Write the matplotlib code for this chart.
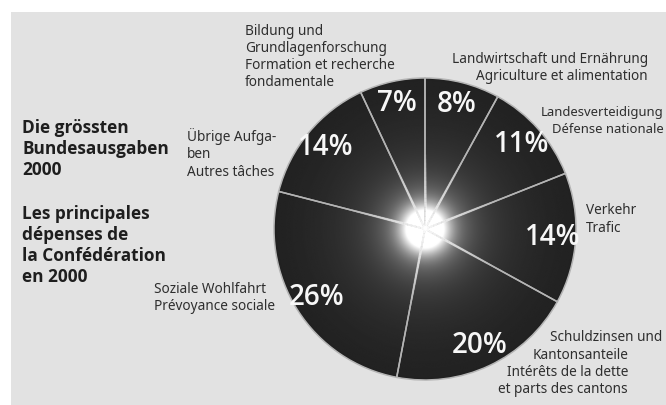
import numpy as np
import matplotlib
matplotlib.use("Agg")
import matplotlib.pyplot as plt
from matplotlib.patches import Circle, Rectangle
from matplotlib.collections import LineCollection


# shares of federal spending 2000, clockwise from the top
shares = [8, 11, 14, 20, 26, 14, 7]
categories = [
    "Landwirtschaft und Ernährung",
    "Landesverteidigung",
    "Verkehr",
    "Schuldzinsen und Kantonsanteile",
    "Soziale Wohlfahrt",
    "Übrige Aufgaben",
    "Bildung und Grundlagenforschung",
]

title_de = ["Die grössten", "Bundesausgaben", "2000"]
title_fr = ["Les principales", "dépenses de", "la Confédération", "en 2000"]

W, H = 666, 405
FONT = ["Noto Sans", "DejaVu Sans"]
BOLD = ["Open Sans", "DejaVu Sans"]


def px(x, y):
    return x / W, 1 - y / H


def lines(fig, rows, x, y0, step, ha="left", family=FONT, **kw):
    # one text per line, baselines step px apart
    for i, s in enumerate(rows):
        fig.text(*px(x, y0 + i * step), s, ha=ha, va="baseline",
                 family=family, **kw)


fig = plt.figure(figsize=(W / 100, H / 100), dpi=100)
fig.patch.set_facecolor("white")
fig.patches.append(Rectangle(px(11, H), (W - 11) / W, (H - 12) / H,
                             transform=fig.transFigure,
                             facecolor="#e2e2e2", edgecolor="none", zorder=-5))

# pie axes, centre at (425, 229) px, radius 151 px
cx, cy, r = 425, 229, 151
ax = fig.add_axes([(cx - r) / W, (H - cy - r) / H, 2 * r / W, 2 * r / H])
ax.set_zorder(2)

wedges, _, autotexts = ax.pie(
    shares, startangle=90, counterclock=False, radius=1,
    autopct=lambda p: f"{p:.0f}%", pctdistance=0.85,
    wedgeprops=dict(facecolor="none", edgecolor="#b4b4b4", linewidth=1.1),
    textprops=dict(color="#f7f7f7", fontsize=20, family=BOLD,
                   fontweight="semibold"))

# radial gradient fill: dark rim, bright glow in the middle
n = 600
g = np.linspace(-1, 1, n)
xx, yy = np.meshgrid(g, g)
rr = np.hypot(xx, yy)
shade = (0.11 + 0.38 * np.exp(-rr / 0.35)
         + 0.3 * np.exp(-(rr / 0.24) ** 2)
         + 0.75 * np.exp(-(rr / 0.15) ** 2.5))
shade = np.clip(shade, 0, 1)
im = ax.imshow(shade, extent=(-1, 1, -1, 1), cmap="gray", vmin=0, vmax=1,
               origin="lower", zorder=0, interpolation="bilinear")
im.set_clip_path(Circle((0, 0), 1, transform=ax.transData))

# bright rays along the dividers near the centre
segs, cols = [], []
for w in wedges:
    a = np.deg2rad(w.theta1)
    steps = np.linspace(0, 0.5, 18)
    for s0, s1 in zip(steps[:-1], steps[1:]):
        segs.append([(s0 * np.cos(a), s0 * np.sin(a)),
                     (s1 * np.cos(a), s1 * np.sin(a))])
        cols.append((1, 1, 1, 0.9 * (1 - s0 / 0.5)))
ax.add_collection(LineCollection(segs, colors=cols, linewidths=1.8, zorder=2))

for t in autotexts:
    t.set_zorder(3)

ax.set_xlim(-1, 1)
ax.set_ylim(-1, 1)
ax.axis("off")

# headline
head = dict(fontsize=12.4, fontweight="bold", color="#1e1e1e", family=BOLD)
lines(fig, title_de, 22, 133, 21, **head)
lines(fig, title_fr, 22, 219, 21, **head)

lab = dict(fontsize=9.8, color="#2e2e2e")
lines(fig, ["Bildung und", "Grundlagenforschung", "Formation et recherche",
            "fondamentale"], 245, 35, 17, **lab)
lines(fig, ["Landwirtschaft und Ernährung", "Agriculture et alimentation"],
      648, 63, 17.5, ha="right", **lab)
lines(fig, ["Landesverteidigung", "Défense nationale"], 664, 116, 17,
      ha="right", fontsize=9.4, color="#2e2e2e")
lines(fig, ["Übrige Aufga-", "ben", "Autres tâches"], 187, 141, 17.5, **lab)
lines(fig, ["Verkehr", "Trafic"], 586, 214, 18, **lab)
lines(fig, ["Soziale Wohlfahrt", "Prévoyance sociale"], 154, 293, 16.5, **lab)
lines(fig, ["Schuldzinsen und"], 662, 341, 17, ha="right", **lab)
lines(fig, ["Kantonsanteile", "Intérêts de la dette", "et parts des cantons"],
      628, 359, 16.8, ha="right", **lab)

fig.savefig("out.png", dpi=100, facecolor=fig.get_facecolor())
